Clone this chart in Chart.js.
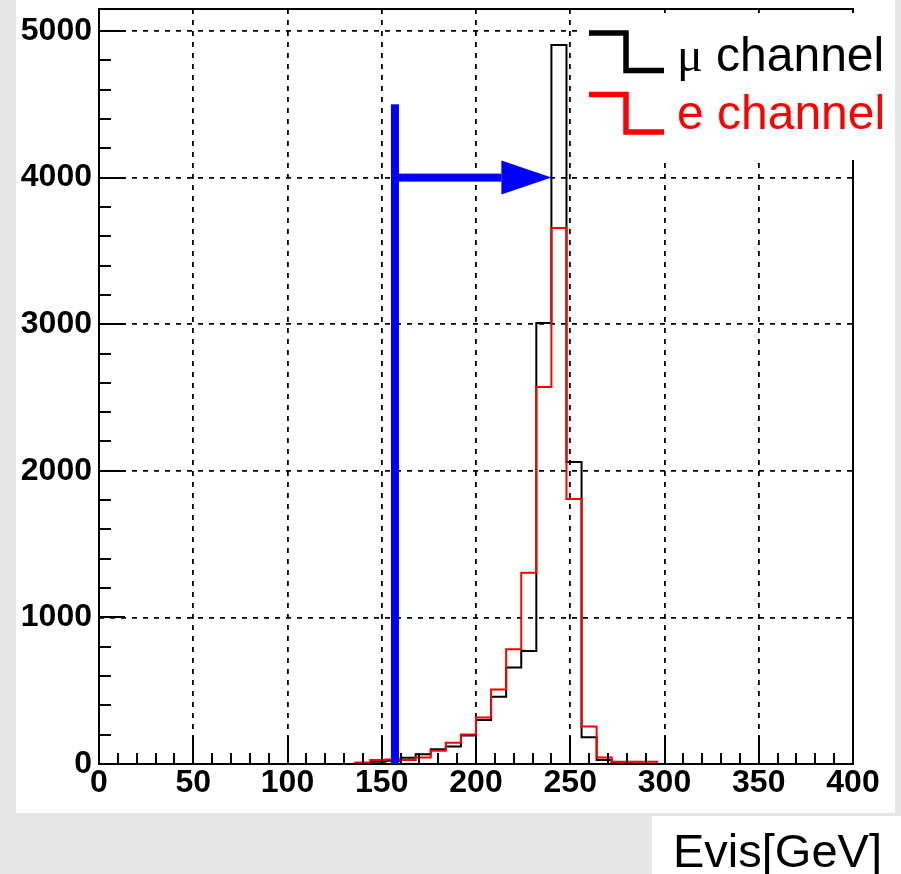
<!DOCTYPE html>
<html>
<head>
<meta charset="utf-8">
<title>Evis</title>
<script src="https://cdn.jsdelivr.net/npm/chart.js@4/dist/chart.umd.min.js"></script>
<style>
  html, body { margin: 0; padding: 0; background: #e6e6e6; }
  #evisChart { display: block; }
</style>
</head>
<body>
<canvas id="evisChart" width="901" height="874"></canvas>
<script>
// 50 bins of 8 GeV between 0 and 400
var binLow = 0;
var binWidth = 8;
var nBins = 50;

// entries per bin
var muCounts = [
    0, 0, 0, 0, 0, 0, 0, 0, 0, 0,
    0, 0, 0, 0, 0, 0, 0, 5, 16, 22,
    43, 66, 100, 120, 195, 300, 459, 659, 771, 3008,
    4905, 2060, 182, 27, 5, 3, 2, 0, 0, 0,
    0, 0, 0, 0, 0, 0, 0, 0, 0, 0
];
var eCounts = [
    0, 0, 0, 0, 0, 0, 0, 0, 0, 0,
    0, 0, 0, 0, 0, 0, 0, 11, 27, 30,
    27, 45, 91, 145, 202, 318, 509, 782, 1305, 2571,
    3656, 1808, 255, 45, 16, 16, 16, 0, 0, 0,
    0, 0, 0, 0, 0, 0, 0, 0, 0, 0
];

var xTicks = [0, 50, 100, 150, 200, 250, 300, 350, 400];
var yTicks = [0, 1000, 2000, 3000, 4000, 5000];

var seriesLabels = ['\u03bc channel', 'e channel'];
var axisTitle = 'Evis[GeV]';

// Evis cut and arrow
var cutValue = 157;
var cutTop = 4500;
var arrowLevel = 4000;
var arrowEnd = 240;

// outline points for a stepped line: left edge of every bin plus the last edge
function histPoints(counts) {
    var pts = [];
    for (var i = 0; i < counts.length; i++) {
        pts.push({ x: binLow + i * binWidth, y: counts[i] });
    }
    pts.push({ x: binLow + counts.length * binWidth, y: counts[counts.length - 1] });
    return pts;
}

var yMax = Math.max.apply(null, muCounts) * 1.05;
var tickFont = { family: 'Liberation Sans, Arial, sans-serif', size: 32, weight: 'bold' };

// page background, white pad and the title box
var background = {
    id: 'background',
    beforeDraw: function(chart) {
        var ctx = chart.ctx;
        ctx.save();
        ctx.fillStyle = '#e6e6e6';
        ctx.fillRect(0, 0, chart.width, chart.height);
        ctx.fillStyle = '#ffffff';
        ctx.fillRect(16, 0, 879, 813);
        ctx.fillRect(652, 816, 249, 58);
        ctx.fillStyle = '#000000';
        ctx.font = '47px "Liberation Sans", Arial, sans-serif';
        ctx.textBaseline = 'alphabetic';
        ctx.fillText(axisTitle, 673, 867);
        ctx.restore();
    }
};

// frame, inside ticks, cut line with arrow, legend
var overlay = {
    id: 'overlay',
    afterDatasetsDraw: function(chart) {
        var ctx = chart.ctx;
        var xs = chart.scales.x, ys = chart.scales.y;
        var a = chart.chartArea;
        var y0 = ys.getPixelForValue(0);
        var v, len, p;

        ctx.save();
        ctx.strokeStyle = '#000000';
        ctx.lineWidth = 2;

        // ticks along x, every 10 GeV
        ctx.beginPath();
        for (v = 0; v <= 400; v += 10) {
            p = Math.round(xs.getPixelForValue(v));
            len = (v % 50 === 0) ? 28 : 11;
            ctx.moveTo(p, a.bottom);
            ctx.lineTo(p, a.bottom - len);
        }
        // ticks along y, every 200
        for (v = 0; v <= 5000; v += 200) {
            p = Math.round(ys.getPixelForValue(v));
            len = (v % 1000 === 0) ? 26 : 12;
            ctx.moveTo(a.left, p);
            ctx.lineTo(a.left + len, p);
        }
        ctx.stroke();

        ctx.strokeRect(a.left, a.top, a.right - a.left, a.bottom - a.top);

        // cut line
        ctx.fillStyle = '#0000ff';
        var cx = xs.getPixelForValue(cutValue);
        var cy = ys.getPixelForValue(cutTop);
        ctx.fillRect(cx - 4, cy, 8, y0 - cy);

        // arrow pointing to the peak
        var ay = ys.getPixelForValue(arrowLevel);
        var tip = xs.getPixelForValue(arrowEnd);
        ctx.fillRect(cx, ay - 4, tip - 50 - cx, 8);
        ctx.beginPath();
        ctx.moveTo(tip, ay);
        ctx.lineTo(tip - 50, ay - 17);
        ctx.lineTo(tip - 50, ay + 17);
        ctx.closePath();
        ctx.fill();
        ctx.restore();
    },
    afterDraw: function(chart) {
        var ctx = chart.ctx;
        ctx.save();
        ctx.fillStyle = '#ffffff';
        ctx.fillRect(578, 13, 317, 147);

        chart.data.datasets.forEach(function(ds, i) {
            var top = 33 + i * 61.5;
            var bottom = 70.5 + i * 61.5;
            ctx.strokeStyle = ds.borderColor;
            ctx.lineWidth = 5.5;
            ctx.lineJoin = 'miter';
            ctx.beginPath();
            ctx.moveTo(589, top);
            ctx.lineTo(626, top);
            ctx.lineTo(626, bottom);
            ctx.lineTo(664, bottom);
            ctx.stroke();

            var base = 71 + i * 58;
            var x = 677;
            var text = ds.label;
            ctx.fillStyle = ds.borderColor;
            ctx.textBaseline = 'alphabetic';
            if (text.charAt(0) === '\u03bc') {
                // greek letter from the serif face, like ROOT's symbol font
                ctx.font = '48px "Liberation Serif", "Times New Roman", serif';
                ctx.fillText(text.charAt(0), x, base);
                x += ctx.measureText(text.charAt(0)).width;
                text = text.slice(1);
            }
            ctx.font = '48px "Liberation Sans", Arial, sans-serif';
            ctx.fillText(text, x, base);
        });
        ctx.restore();
    }
};

var evischart = document.getElementById('evisChart');

let evisChart = new Chart(evischart, {
    type: 'line',
    data: {
        datasets: [
            {
                label: seriesLabels[0],
                data: histPoints(muCounts),
                borderColor: '#000000',
                borderWidth: 2,
                stepped: true,
                pointRadius: 0,
                fill: false,
                clip: false,
                order: 1
            },
            {
                label: seriesLabels[1],
                data: histPoints(eCounts),
                borderColor: '#ff0000',
                borderWidth: 2,
                stepped: true,
                pointRadius: 0,
                fill: false,
                clip: false,
                order: 0
            }
        ]
    },
    options: {
        responsive: false,
        animation: false,
        devicePixelRatio: 1,
        events: [],
        layout: { padding: { left: 0, right: 48, top: 9, bottom: 0 } },
        plugins: {
            legend: { display: false },
            tooltip: { enabled: false }
        },
        scales: {
            x: {
                type: 'linear',
                min: 0,
                max: 400,
                afterBuildTicks: function(scale) {
                    scale.ticks = xTicks.map(function(v) { return { value: v }; });
                },
                afterFit: function(scale) {
                    scale.height = 110;
                    scale.paddingLeft = 0;
                    scale.paddingRight = 0;
                },
                ticks: {
                    color: '#000000',
                    font: tickFont,
                    padding: 0,
                    autoSkip: false,
                    maxRotation: 0,
                    callback: function(v) { return String(v); }
                },
                grid: { color: '#000000', lineWidth: 1.8, drawTicks: false },
                border: { display: false, dash: [5, 6] }
            },
            y: {
                type: 'linear',
                min: 0,
                max: yMax,
                afterBuildTicks: function(scale) {
                    scale.ticks = yTicks.map(function(v) { return { value: v }; });
                },
                afterFit: function(scale) {
                    scale.width = 99;
                    scale.paddingTop = 0;
                    scale.paddingBottom = 0;
                },
                ticks: {
                    color: '#000000',
                    font: tickFont,
                    padding: 7,
                    callback: function(v) { return String(v); }
                },
                grid: { color: '#000000', lineWidth: 1.8, drawTicks: false },
                border: { display: false, dash: [5, 6] }
            }
        }
    },
    plugins: [background, overlay]
});
</script>
</body>
</html>
